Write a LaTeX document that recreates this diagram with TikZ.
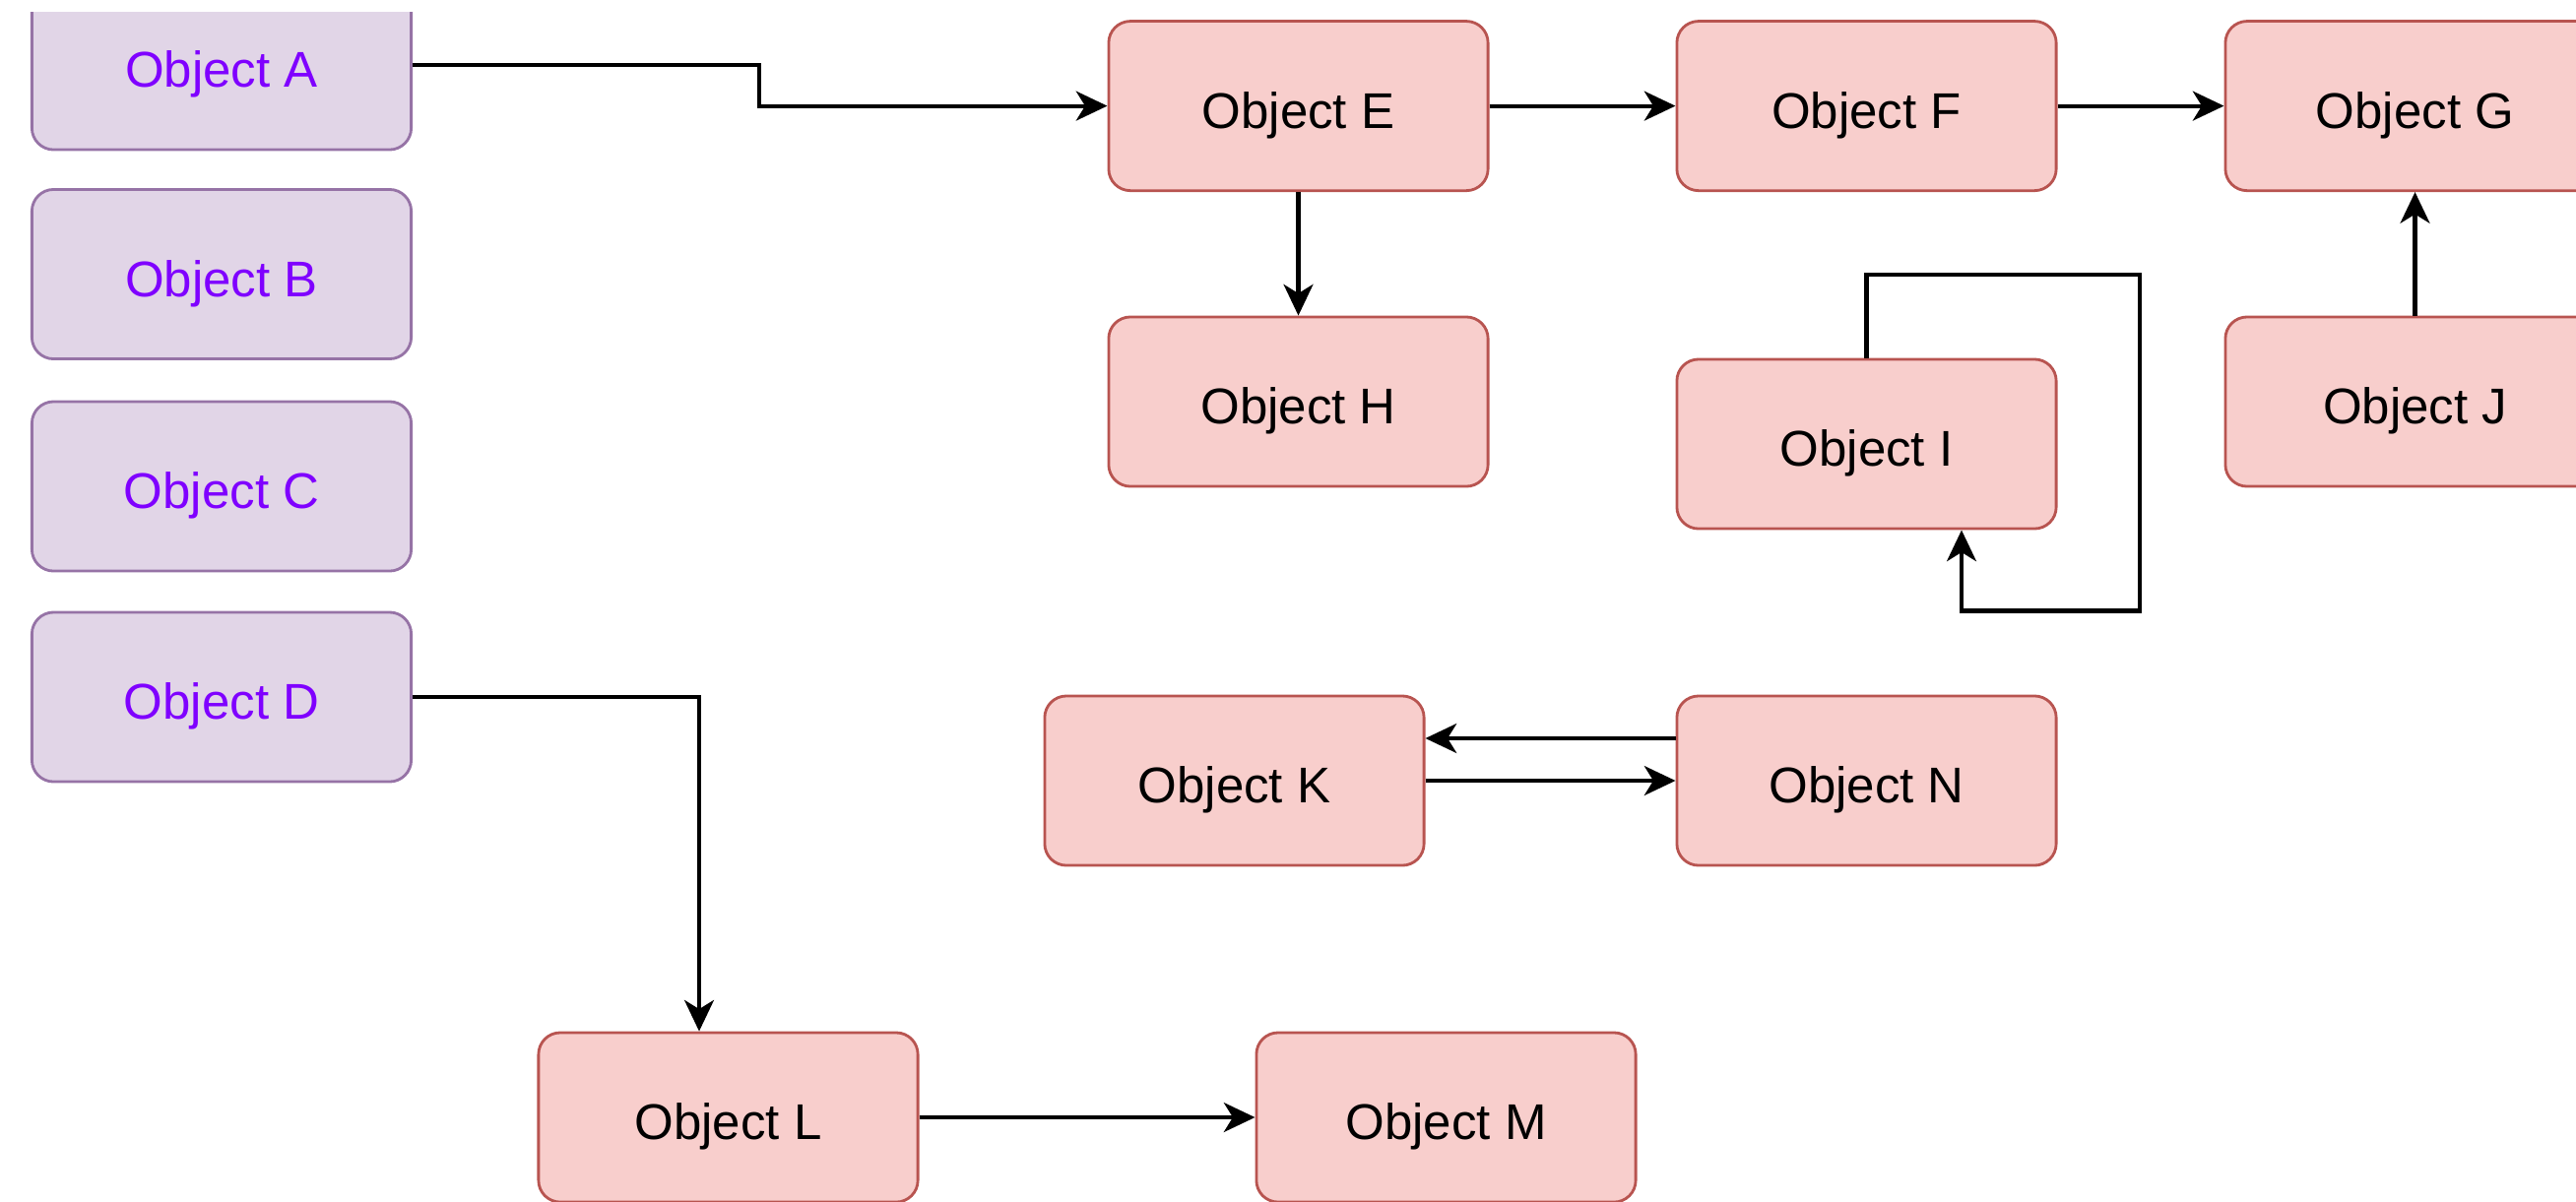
\documentclass[tikz,border=0pt]{standalone}
\usepackage{fontspec}
\setmainfont{Liberation Sans}
\usetikzlibrary{arrows.meta}
\definecolor{purpfill}{HTML}{E1D5E7}
\definecolor{purpdraw}{HTML}{9673A6}
\definecolor{purptext}{HTML}{7F00FF}
\definecolor{redfill}{HTML}{F8CECC}
\definecolor{reddraw}{HTML}{B85450}
\begin{document}
\begin{tikzpicture}[x=0.01cm,y=-0.01cm,
  box/.style={draw, rounded corners=0.22cm, minimum width=3.85cm, minimum height=1.72cm,
    line width=0.8pt, inner sep=0pt, text height=12.8pt, text depth=0pt,
    font=\fontsize{14.5}{17}\selectfont},
  purplebox/.style={box, fill=purpfill, draw=purpdraw, text=purptext},
  redbox/.style={box, fill=redfill, draw=reddraw, text=black},
  link/.style={draw=black, line width=1.2pt, -{Stealth[length=9pt,width=8.5pt,inset=2.6pt]}}]
\useasboundingbox (0,0) rectangle (2616,1220);
\clip (0,12) rectangle (2616,1220);

% left column
\node[purplebox] (A) at (225,66) {Object A};
\node[purplebox] (B) at (225,278.5) {Object B};
\node[purplebox] (C) at (225,494) {Object C};
\node[purplebox] (D) at (225,708) {Object D};

% top rows
\node[redbox] (E) at (1318.5,107.6) {Object E};
\node[redbox] (F) at (1895.5,107.6) {Object F};
\node[redbox] (G) at (2452.5,107.6) {Object G};
\node[redbox] (H) at (1318.5,408) {Object H};
\node[redbox] (I) at (1895.5,451) {Object I};
\node[redbox] (J) at (2452.5,408) {Object J};

% middle and bottom
\node[redbox] (K) at (1253.5,793) {Object K};
\node[redbox] (N) at (1895.5,793) {Object N};
\node[redbox] (L) at (739.5,1135) {Object L};
\node[redbox] (M) at (1468.5,1135) {Object M};

% connectors
\coordinate (abend) at (771,66);
\draw[link] (A.east) -- (abend) |- (E.west);
\draw[link] (E) -- (F);
\draw[link] (F) -- (G);
\draw[link] (E) -- (H);
\draw[link] (J) -- (G);

\coordinate (i1) at (1895.5,278.6);
\coordinate (i2) at (2173,278.6);
\coordinate (i3) at (2173,620.5);
\coordinate (i4) at (1992,620.5);
\draw[link] (I.north) -- (i1) -- (i2) -- (i3) -- (i4) -- (i4 |- I.south);

\draw[link] ([yshift=0.43cm]N.west) -- ([yshift=0.43cm]K.east);
\draw[link] (K) -- (N);

\coordinate (dbend) at (710,708);
\draw[link] (D.east) -- (dbend) -- (dbend |- L.north);
\draw[link] (L) -- (M);
\end{tikzpicture}
\end{document}
